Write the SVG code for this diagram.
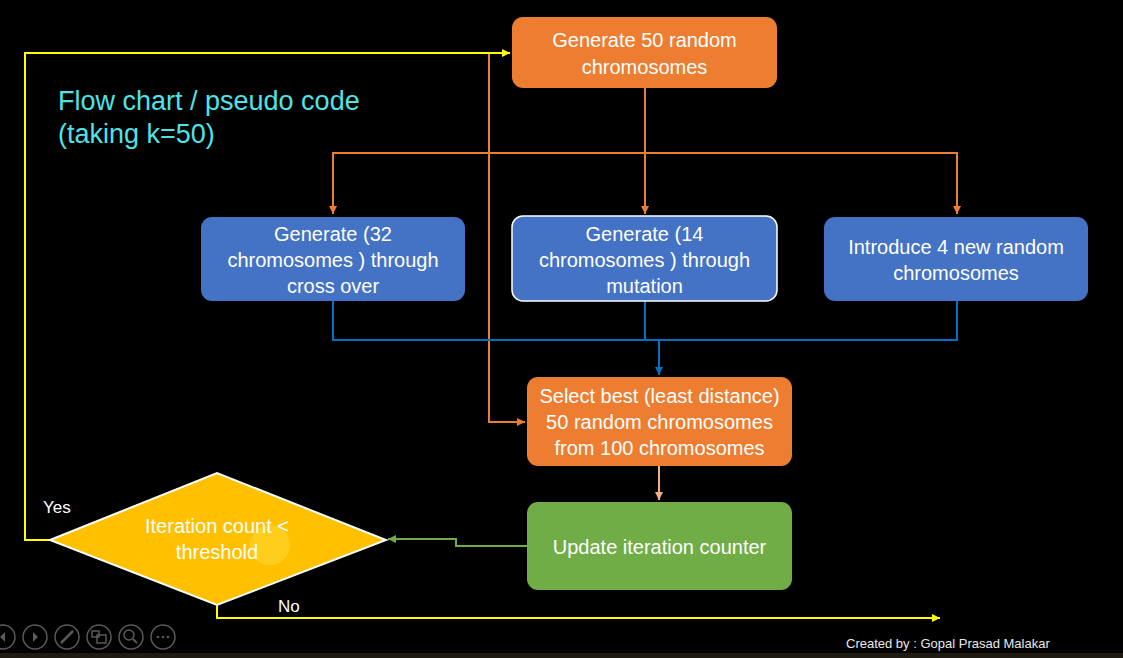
<svg xmlns="http://www.w3.org/2000/svg" width="1123" height="658" viewBox="0 0 1123 658">
<defs>
<style>
.t{font-family:"Liberation Sans",Arial,sans-serif;fill:#fff;text-anchor:middle;font-size:20px}
.lab{font-family:"Liberation Sans",Arial,sans-serif;fill:#fff;font-size:17px}
.c{fill:none;stroke-width:2}
.ui{fill:none;stroke:#5a5a5a;stroke-width:1.5}
</style>
<marker id="ay" markerWidth="10" markerHeight="10" refX="8" refY="4" orient="auto" markerUnits="userSpaceOnUse"><path d="M0,0 L8,4 L0,8 Z" fill="#FFFF00"/></marker>
<marker id="ao" markerWidth="10" markerHeight="10" refX="8" refY="4" orient="auto" markerUnits="userSpaceOnUse"><path d="M0,0 L8,4 L0,8 Z" fill="#ED7D31"/></marker>
<marker id="al" markerWidth="10" markerHeight="10" refX="8" refY="4" orient="auto" markerUnits="userSpaceOnUse"><path d="M0,0 L8,4 L0,8 Z" fill="#F4B183"/></marker>
<marker id="ab" markerWidth="10" markerHeight="10" refX="8" refY="4" orient="auto" markerUnits="userSpaceOnUse"><path d="M0,0 L8,4 L0,8 Z" fill="#0070C0"/></marker>
<marker id="ag" markerWidth="10" markerHeight="10" refX="8" refY="4" orient="auto" markerUnits="userSpaceOnUse"><path d="M0,0 L8,4 L0,8 Z" fill="#70AD47"/></marker>
</defs>
<rect width="1123" height="658" fill="#000"/>
<rect y="653" width="1123" height="5" fill="#1e1b12"/>

<g id="title">
<text x="58" y="110" font-family="Liberation Sans,Arial,sans-serif" font-size="27" fill="#4FE3E6">Flow chart / pseudo code</text>
<text x="58" y="143" font-family="Liberation Sans,Arial,sans-serif" font-size="27" fill="#4FE3E6">(taking k=50)</text>
</g>

<g id="connectors">
<polyline class="c" stroke="#FFFF00" points="50,540 25,540 25,53 510,53" marker-end="url(#ay)"/>
<polyline class="c" stroke="#ED7D31" points="489,54 489,422 525,422" marker-end="url(#ao)"/>
<polyline class="c" stroke="#ED7D31" points="645,88 645,214" marker-end="url(#ao)"/>
<polyline class="c" stroke="#ED7D31" points="645,153 333,153 333,214" marker-end="url(#ao)"/>
<polyline class="c" stroke="#ED7D31" points="645,153 957,153 957,214" marker-end="url(#ao)"/>
<polyline class="c" stroke="#0070C0" points="333,301 333,340 957,340 957,301"/>
<line class="c" stroke="#0070C0" x1="645" y1="301" x2="645" y2="340"/>
<polyline class="c" stroke="#0070C0" points="659,340 659,375" marker-end="url(#ab)"/>
<polyline class="c" stroke="#F4B183" points="659,466 659,500" marker-end="url(#al)"/>
<polyline class="c" stroke="#70AD47" points="527,546 456,546 456,539 388,539" marker-end="url(#ag)"/>
<polyline class="c" stroke="#FFFF00" points="217,605 217,618 940,618" marker-end="url(#ay)"/>
</g>

<g id="n-gen50">
<rect x="512" y="17" width="265" height="71" rx="11" fill="#ED7D31"/>
<text class="t" x="644.5" y="47">Generate 50 random</text>
<text class="t" x="644.5" y="74">chromosomes</text>
</g>

<g id="n-cross">
<rect x="201" y="217" width="264" height="84" rx="11" fill="#4472C4"/>
<text class="t" x="333" y="241">Generate (32</text>
<text class="t" x="333" y="267">chromosomes ) through</text>
<text class="t" x="333" y="293">cross over</text>
</g>

<g id="n-mut">
<rect x="512" y="216" width="265" height="85" rx="11" fill="#4472C4" stroke="#fff" stroke-width="1.5"/>
<text class="t" x="644.5" y="241">Generate (14</text>
<text class="t" x="644.5" y="267">chromosomes ) through</text>
<text class="t" x="644.5" y="293">mutation</text>
</g>

<g id="n-intro">
<rect x="824" y="217" width="264" height="84" rx="11" fill="#4472C4"/>
<text class="t" x="956" y="254">Introduce 4 new random</text>
<text class="t" x="956" y="280">chromosomes</text>
</g>

<g id="n-select">
<rect x="527" y="377" width="265" height="89" rx="11" fill="#ED7D31"/>
<text class="t" x="659.5" y="403">Select best (least distance)</text>
<text class="t" x="659.5" y="429">50 random chromosomes</text>
<text class="t" x="659.5" y="455">from 100 chromosomes</text>
</g>

<g id="n-update">
<rect x="527" y="502" width="265" height="88" rx="11" fill="#70AD47"/>
<text class="t" x="659.5" y="554">Update iteration counter</text>
</g>

<g id="n-decision">
<polygon points="50,540 217,473 386,540 217,605" fill="#FFC000" stroke="#fff" stroke-width="2"/>
<circle cx="270" cy="545" r="20" fill="#FFE040" opacity="0.45"/>
<text class="t" x="217" y="533">Iteration count &lt;</text>
<text class="t" x="217" y="559">threshold</text>
</g>

<g id="labels">
<text class="lab" x="43" y="513">Yes</text>
<text class="lab" x="278" y="612">No</text>
<text x="846" y="648" font-family="Liberation Sans,Arial,sans-serif" font-size="13" fill="#e8e8e8">Created by : Gopal Prasad Malakar</text>
</g>

<g id="controls">
<circle class="ui" cx="3" cy="637" r="12"/>
<path d="M5,632 L0,637 L5,642 Z" fill="#5a5a5a"/>
<circle class="ui" cx="35" cy="637" r="12"/>
<path d="M33,632 L38,637 L33,642 Z" fill="#5a5a5a"/>
<circle class="ui" cx="67" cy="637" r="12"/>
<line x1="61" y1="643" x2="73" y2="631" stroke="#5a5a5a" stroke-width="2.5"/>
<circle class="ui" cx="99" cy="637" r="12"/>
<rect class="ui" x="92" y="631" width="7" height="6"/>
<rect class="ui" x="97" y="635" width="9" height="8"/>
<circle class="ui" cx="131" cy="637" r="12"/>
<circle class="ui" cx="129" cy="635" r="5"/>
<line x1="133" y1="639" x2="137" y2="643" stroke="#5a5a5a" stroke-width="2"/>
<circle class="ui" cx="163" cy="637" r="12"/>
<circle cx="158" cy="637" r="1.3" fill="#5a5a5a"/>
<circle cx="163" cy="637" r="1.3" fill="#5a5a5a"/>
<circle cx="168" cy="637" r="1.3" fill="#5a5a5a"/>
</g>
</svg>
